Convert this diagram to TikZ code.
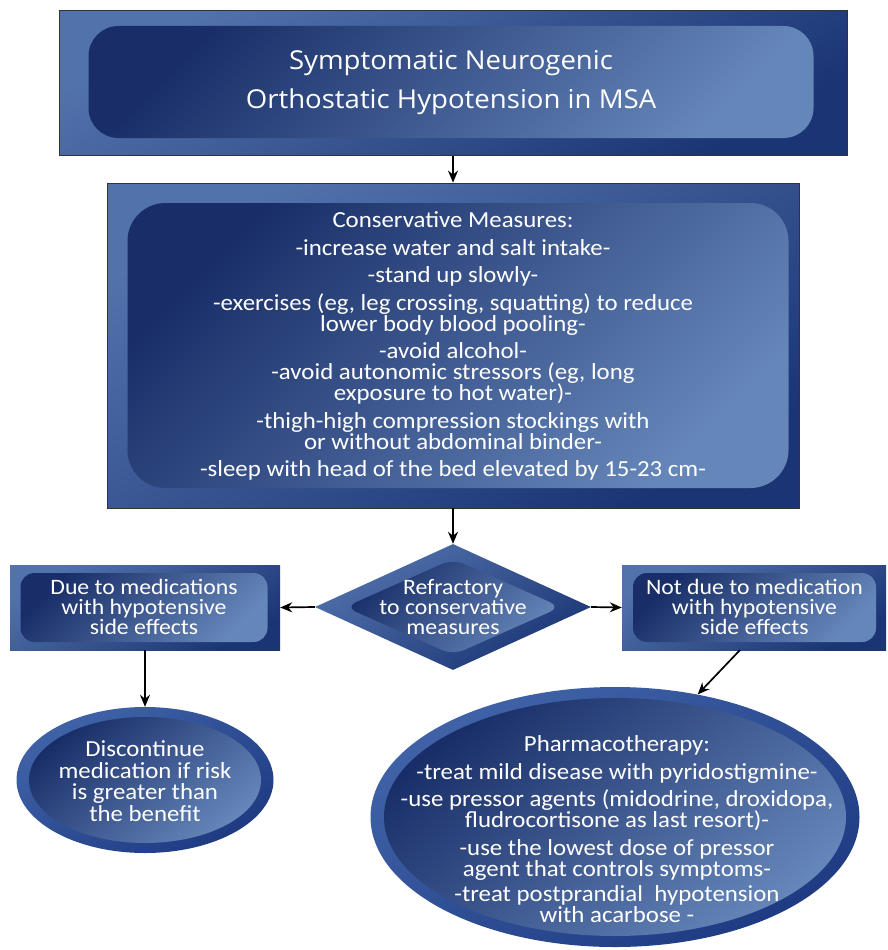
\documentclass[tikz,border=0pt]{standalone}
\usepackage{fontspec}
\setmainfont[FakeStretch=1.08]{Carlito}
\newfontfamily\titlefont[FakeStretch=1.06]{Open Sans}
\usetikzlibrary{shapes.geometric,arrows.meta}
\definecolor{outerD}{HTML}{1B3574}
\definecolor{outerL}{HTML}{5272AC}
\definecolor{innerD}{HTML}{192E68}
\definecolor{innerL}{HTML}{6586B9}
\definecolor{ringL}{HTML}{4063A8}
\definecolor{ringD}{HTML}{1E3B82}
\newcommand\tightls{\lineskiplimit-30pt\relax}
\newcommand\bodyfont[2]{\fontsize{#1}{#2}\selectfont\tightls}
\begin{document}
\begin{tikzpicture}[x=1pt,y=-1pt,
  outerbox/.style={rectangle, draw=black!80, line width=0.8pt, top color=outerL, bottom color=outerD, shading angle=30, inner sep=0pt},
  sidebox/.style={rectangle, top color=outerL, bottom color=outerD, shading angle=30, inner sep=0pt},
  innerbox/.style={rectangle, rounded corners=#1, top color=innerD, bottom color=innerL, shading angle=45, inner sep=0pt},
  ringshape/.style={ellipse, top color=ringL, bottom color=ringD, shading angle=30, inner sep=0pt},
  innerell/.style={ellipse, top color=innerD, bottom color=innerL, shading angle=40, inner sep=0pt},
  txt/.style={text=white, align=center, inner sep=0pt, font=\bodyfont{23}{21}},
  arr/.style={-{Stealth[length=12pt,width=10pt]}, line width=1.7pt, black}]
\useasboundingbox (0,0) rectangle (888,950);

% top box
\node[outerbox, minimum width=788pt, minimum height=145pt] (top) at (453,83) {};
\node[innerbox=30pt, minimum width=725pt, minimum height=112pt] (topin) at (451,82) {};
\node[text=white, align=center, inner sep=0pt, font=\titlefont\fontsize{26}{39}\selectfont] (toptxt) at (451,82.5) {Symptomatic Neurogenic\\Orthostatic Hypotension in MSA};

% conservative measures
\node[outerbox, minimum width=692pt, minimum height=325pt] (cons) at (453,345.5) {};
\node[innerbox=38pt, minimum width=661pt, minimum height=285pt] (consin) at (458,345.5) {};
\node[txt] (constxt) at (453,346) {Conservative Measures:\\[6.5pt]
-increase water and salt intake-\\[6.5pt]
-stand up slowly-\\[6.5pt]
-exercises (eg, leg crossing, squatting) to reduce\\
lower body blood pooling-\\[6.5pt]
-avoid alcohol-\\[0pt]
-avoid autonomic stressors (eg, long\\
exposure to hot water)-\\[6.5pt]
-thigh-high compression stockings with\\
or without abdominal binder-\\[6.5pt]
-sleep with head of the bed elevated by 15-23 cm-};

% diamond
\node[diamond, top color=outerL, bottom color=outerD, shading angle=30, minimum width=276pt, minimum height=126pt, inner sep=0pt] (dia) at (453,607) {};
\node[diamond, rounded corners=12pt, top color=innerD, bottom color=innerL, shading angle=45, minimum width=216pt, minimum height=96pt, inner sep=0pt] (diain) at (453,607) {};
\node[txt, font=\bodyfont{22}{20}] (diatxt) at (453,607) {Refractory\\to conservative\\measures};

% left box
\node[sidebox, minimum width=270pt, minimum height=85pt] (left) at (145,607.5) {};
\node[innerbox=14pt, minimum width=247pt, minimum height=69pt] (leftin) at (144,607.5) {};
\node[txt, font=\bodyfont{22}{20}] (lefttxt) at (144,606.5) {Due to medications\\with hypotensive\\side effects};

% right box
\node[sidebox, minimum width=264pt, minimum height=85pt] (right) at (754,607.5) {};
\node[innerbox=14pt, minimum width=243pt, minimum height=69pt] (rightin) at (754.5,607.5) {};
\node[txt, font=\bodyfont{22}{20}] (righttxt) at (754.5,606.5) {Not due to medication\\with hypotensive\\side effects};

% discontinue ellipse
\node[ringshape, minimum width=257pt, minimum height=146pt] (disc) at (145,780) {};
\node[innerell, minimum width=232pt, minimum height=126pt] (discin) at (145,780) {};
\node[txt, font=\bodyfont{23}{21.5}] (disctxt) at (145,781) {Discontinue\\medication if risk\\is greater than\\the benefit};

% pharmacotherapy ellipse
\node[ringshape, minimum width=489pt, minimum height=260pt] (pharm) at (615,817) {};
\node[innerell, minimum width=462pt, minimum height=238pt] (pharmin) at (615,817) {};
\node[txt] (pharmtxt) at (617,829) {Pharmacotherapy:\\[6.5pt]
-treat mild disease with pyridostigmine-\\[6.5pt]
-use pressor agents (midodrine, droxidopa,\\
fludrocortisone as last resort)-\\[6.5pt]
-use the lowest dose of pressor\\
agent that controls symptoms-\\[4pt]
-treat postprandial\enspace hypotension\\
with acarbose -};

% connectors
\coordinate (rs) at (740,650);
\draw[arr] (top.south) -- (cons.north);
\draw[arr] (cons.south) -- (dia.north);
\draw[arr] (dia.west) -- (left.east);
\draw[arr] (dia.east) -- (right.west);
\draw[arr] (left.south) -- (disc.north);
\draw[arr] (rs) -- (pharm.56);
\end{tikzpicture}
\end{document}
